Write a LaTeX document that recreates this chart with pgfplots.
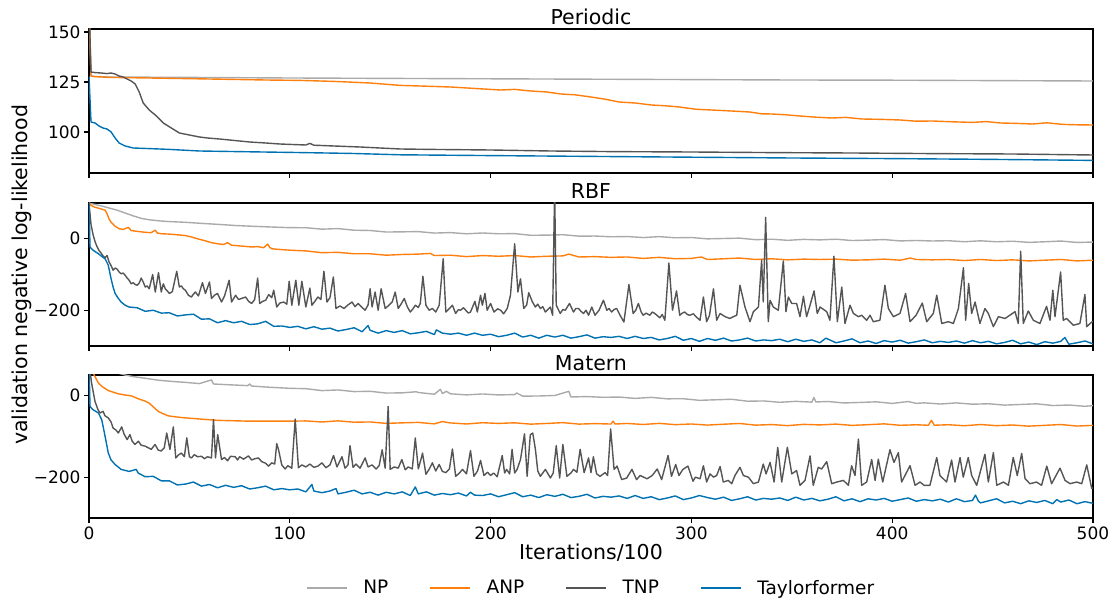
\documentclass[border=0pt]{standalone}
\usepackage{fontspec}
\setmainfont{DejaVu Sans}
\usepackage{pgfplots}
\pgfplotsset{compat=1.18}

\definecolor{cNP}{HTML}{AAAAAA}
\definecolor{cANP}{HTML}{FF7F0E}
\definecolor{cTNP}{HTML}{555555}
\definecolor{cTF}{HTML}{0072B2}

\pgfplotsset{
  panel/.style={
    scale only axis, width=1004pt,
    xmin=0, xmax=500,
    axis line style={line width=1.1pt},
    tick align=outside, xtick pos=bottom, ytick pos=left,
    major tick length=5pt,
    every tick/.style={black, line width=1.1pt},
    xtick={0,100,200,300,400,500},
    tick label style={font=\fontsize{17}{20}\selectfont},
    title style={font=\fontsize{20.5}{24}\selectfont, at={(0.5,1)}, anchor=base, yshift=-2pt, inner sep=0pt},
    every axis plot/.append style={line width=1.4pt, line join=round},
  },
}

\begin{document}
\begin{tikzpicture}
\useasboundingbox (-89pt,29pt) rectangle (1023pt,-572pt);

% Periodic
\begin{axis}[panel, at={(0,-144pt)}, height=144pt,
  ymin=79.5, ymax=151.5, ytick={100,125,150}, yticklabels={100,125,150},
  xticklabels={}, title={Periodic}]
\addplot[cNP] coordinates {(0,165)(1,128)(2,127.8)(10,127.5)(50,127.3)(100,127)(150,126.8)(200,126.6)(250,126.4)(300,126.2)(350,126)(400,125.9)(450,125.7)(500,125.5)};
\addplot[cANP] coordinates {(0,160)(1,128)(3,127.7)(10,127.3)(30,127)(60,126.5)(88,126)(105,125.8)(122,125.3)(140,124.5)(155,123.3)(165,123)(180,122.5)(195,121.6)(205,121)(212,121.3)(220,120.5)(228,120)(235,119)(242,118.6)(250,117.5)(257,116.4)(264,115)(272,114.5)(280,113.5)(287,113.1)(294,112.5)(302,111.4)(310,111)(318,110.6)(329,110)(335,109.1)(340,109)(347,108.6)(354,108)(362,107.4)(370,107)(377,107.3)(385,106.5)(395,106.3)(404,106)(412,105.4)(420,105.5)(430,105.1)(440,104.8)(447,105.2)(454,104.5)(462,104.3)(470,104)(477,104.6)(485,103.8)(492,103.6)(500,103.5)};
\addplot[cTNP] coordinates {(0,165)(1,130)(3,129.7)(6,129.5)(9,129.2)(11,129.5)(13,129)(15,128)(17,127.5)(19,126.5)(21,125.5)(23,124)(25,120)(27,114.5)(30,111)(33,108.5)(37,104.5)(41,102)(45,99.5)(50,98.5)(55,97.5)(59,97)(65,96.5)(70,96)(75,95.5)(80,95)(88,94.5)(95,94)(100,93.8)(108,93.5)(110,94.3)(112,93.4)(122,93)(135,92.5)(145,92)(155,91.5)(170,91.3)(200,91)(230,90.5)(260,90.2)(300,90)(340,89.7)(380,89.5)(420,89.2)(460,89)(500,88.5)};
\addplot[cTF] coordinates {(0,128)(1,105)(3,104.5)(5,103)(7,102)(9,101.5)(11,100)(13,97)(15,94.5)(18,93)(22,92)(30,91.7)(40,91.3)(55,90.5)(80,90.1)(100,89.8)(130,89.3)(155,88.6)(200,88.2)(250,87.8)(300,87.4)(350,87)(400,86.7)(450,86.3)(500,85.8)};
\end{axis}

% RBF
\begin{axis}[panel, at={(0,-317pt)}, height=143pt,
  ymin=-300, ymax=100, ytick={-200,0}, yticklabels={−200,0},
  xticklabels={}, title={RBF}]
\addplot[cNP] coordinates {(0,100)(1,98)(3,96)(6,92)(10,86)(14,80)(18,72)(22,64)(26,57)(30,53)(35,50)(40,48)(48,46)(56,43)(65,40)(73,37)(81,35)(90,33)
(100,31)(108,30.8)(116,26.8)(124,28.4)(132,23.9)(140,23.1)(148,18.8)(156,19.3)(164,20)(172,15.9)(180,17.2)(188,13.8)(196,16.1)(204,13.9)(212,14.4)(220,9.7)(228,10.1)(236,11.3)(244,7.3)(252,7.6)(260,5.5)(268,6.2)(276,3.3)(284,5.9)(292,2.7)(300,3.4)(308,-0.3)(316,0.7)(324,1.7)(332,-2.6)(340,-1.3)(348,-4.4)(356,-1.8)(364,-3.2)(372,-1.3)(380,-5)(388,-3.8)(396,-2.3)(404,-6.1)(412,-4.8)(420,-6.3)(428,-5.5)(436,-8.4)(444,-5.7)(452,-8.5)(460,-6.9)(468,-10.1)(476,-8.5)(484,-6.4)(492,-10.3)(500,-9.3)};
\addplot[cANP] coordinates {(0,100)(1,93)(3,88)(5,85)(8,80)(9,70)(10,55)(11,46)(13,35)(15,28)(17,26)(19.6,32)(21,23)(25,20)(28,18)(31,17)(33,24)(34,16)(36,14)(40,13)(44,11)(48,9)(51,5)(54,0)(58,-6)(61,-11)(64,-14)(67,-16)(69,-11)(71,-18)(75,-20)(81,-23)(84,-22)(87,-25)(89,-15)(90,-24)(91,-28)(95,-30)
(100,-32)(108,-34)(116,-39)(124,-38)(132,-42)(140,-42)(148,-46)(156,-44)(164,-43)(170,-41)(172,-47)(180,-46)(188,-50)(196,-47)(204,-49)(212,-47)(220,-51)(228,-49)(236,-48)(239,-43)(244,-51)(252,-50)(260,-52)(268,-51)(276,-55)(284,-52)(292,-56)(300,-55)(305,-51)(308,-58)(316,-56)(324,-54)(332,-58)(340,-56)(348,-59)(356,-57)(364,-58)(372,-57)(380,-60)(388,-59)(396,-57)(404,-60)(409,-54)(412,-58)(420,-59)(428,-58)(436,-61)(444,-58)(452,-61)(460,-59)(468,-62)(476,-60)(484,-58)(492,-62)(500,-60)};
\addplot[cTNP] coordinates {(0,100)(1,40)(2,12)(3,-8)(4,-22)(5,-33)(6,-40)(7,-48)(8,-53)(9,-47)(10,-65)(11,-75)(12,-88)(13,-82)(14,-85)(15,-93)(16,-98)(17,-96)(18,-102)(19,-110)(20,-116)(21,-126)(22,-123)(23,-128)(24,-130)(25,-124)(26,-110)(27,-121)(28,-135)(29,-132)(30,-140)(31.7,-100)(33,-149)(34.6,-95)(36,-149)(37,-126)(38,-140)(39,-146)(40,-153)(41.5,-148)(43.7,-91)(45,-135)(46,-132)(47,-140)(48,-144)(49.5,-158)(51,-163)(52,-155)(53,-149)(54.5,-160)(56.5,-123)(58,-153)(60,-121)(61,-167)(62.5,-158)(64,-153)(66,-177)(67.5,-160)(69.8,-116)(71,-177)(73,-158)(74.5,-170)(76,-167)(78,-163)(79.5,-175)(81,-181)(82.5,-170)(84,-110)(85,-181)(86.5,-175)(88,-172)(89.5,-156)(91,-165)(92,-144)(93.5,-191)(95,-180)(97,-177)(98.5,-183)(99.7,-119)(101,-186)(103,-116)(104.5,-186)(106,-119)(108,-191)(110,-138)(111,-186)(112.5,-175)(114,-163)(115.5,-170)(117,-91)(118.5,-177)(120,-165)(121.7,-107)(123,-195)(125,-188)(127,-195)(129,-185)(131,-177)(132.5,-190)(134,-181)(136,-192)(137.5,-200)(139,-185)(140,-140)(141,-191)(142.5,-149)(144,-200)(145.5,-140)(147.5,-195)(149,-188)(151,-177)(152.5,-149)(154,-195)(155.5,-182)(157,-167)(158.5,-190)(160,-205)(161.5,-195)(162.5,-186)(164,-192)(165,-181)(166.3,-105)(167.8,-186)(169.4,-200)(171,-195)(172.7,-205)(174.4,-186)(176.4,-56)(177.7,-205)(179.5,-195)(181,-186)(182.6,-209)(184,-198)(185,-200)(186.5,-193)(187.6,-200)(189,-208)(190,-205)(192.2,-175)(193.4,-205)(195,-158)(195.9,-186)(197.2,-153)(198.3,-200)(200,-181)(201.7,-205)(203.5,-196)(205,-200)(206.5,-210)(208.3,-195)(209.9,-158)(212,-14)(213.6,-149)(214.9,-112)(216.5,-195)(218,-185)(219,-151)(220.7,-175)(222.3,-191)(223.5,-183)(224.8,-195)(226,-190)(227.3,-205)(228.5,-198)(229.8,-191)(230.9,-214)(231.9,140)(232.7,-186)(234.7,-209)(236,-198)(237.2,-200)(239.3,-181)(241.3,-205)(242.5,-195)(243.8,-195)(245,-203)(246.3,-209)(247.5,-200)(248.8,-214)(250.4,-191)(252,-214)(254,-200)(256.2,-172)(257.9,-200)(259,-195)(260.3,-205)(261.5,-198)(262.8,-195)(264.5,-214)(266.4,-233)(268.9,-128)(271,-209)(272.3,-200)(273.6,-181)(275,-205)(276,-214)(277.5,-208)(279.3,-214)(280.5,-205)(281.8,-209)(283,-215)(284.3,-221)(285.5,-212)(286.8,-228)(288.8,-68)(290.6,-200)(292.6,-146)(294.2,-214)(295.5,-208)(296.7,-205)(298,-212)(299.2,-214)(301,-210)(302.5,-219)(304.3,-228)(306,-163)(307.6,-232)(309,-215)(311,-140)(312.6,-228)(314.3,-209)(316.8,-218)(319.2,-223)(320.9,-218)(322.6,-214)(324.2,-130)(326.7,-191)(329.2,-232)(330.9,-204)(333.4,-191)(335,-60)(335.8,-177)(337,60)(338.3,-232)(339.2,-172)(340.8,-191)(343.3,-200)(345.8,-62)(347.1,-204)(348.3,-163)(350,-181)(352.4,-181)(354.1,-218)(355.8,-161)(357.4,-218)(359.1,-186)(361.1,-146)(362.7,-209)(364.1,-191)(367.4,-204)(369,-228)(371,-49)(372.7,-232)(374.9,-135)(376.5,-237)(379,-186)(380.7,-209)(383.2,-218)(384.8,-214)(387.3,-228)(389,-214)(390.6,-232)(393.9,-228)(396.4,-130)(398.1,-195)(400.6,-218)(403.9,-209)(406.7,-153)(408.9,-232)(411.9,-214)(415,-180)(417.2,-232)(420.5,-209)(422.2,-158)(424.7,-237)(428,-232)(430.5,-237)(433,-195)(435.5,-81)(436.6,-228)(438.1,-125)(439.6,-209)(441.3,-177)(443.7,-237)(446.2,-195)(447.9,-209)(450.4,-246)(452.9,-218)(456.2,-223)(461.2,-204)(462.8,-237)(464,-35)(465.3,-237)(467.8,-202)(470.3,-228)(473.6,-237)(476.9,-189)(478.6,-228)(480,-144)(481.1,-218)(483.9,-93)(485.2,-228)(486.9,-223)(490.2,-242)(493.5,-237)(496,-156)(496.9,-246)(499.4,-233)(500,-232)};
\addplot[cTF] coordinates {(0,100)(0.5,-23)(2,-32)(4.7,-42)(6.5,-50)(8,-56)(9.6,-74)(11,-112)(12,-135)(13,-153)(14.5,-166)(16,-177)(18,-186)
(20,-191)(24,-193)(28,-203)(32,-200)(36,-208)(40,-207)(44,-216)(48,-213)(52,-211)(56,-225)(60,-224)(64,-235)(68,-229)(72,-235)(76,-231)(80,-240)(84,-238)(88,-231)(92,-245)(96,-244)(100,-248)(104,-245)(108,-252)(112,-246)(116,-253)(120,-250)(124,-258)(128,-254)(132,-249)(136,-260)(139,-243)(140,-256)(144,-264)(148,-257)(152,-262)(156,-257)(160,-266)(164,-263)(168,-259)(172,-268)(173,-255)(176,-264)(180,-267)(184,-264)(188,-270)(192,-264)(196,-270)(200,-267)(204,-274)(208,-270)(212,-264)(216,-275)(220,-270)(224,-278)(228,-270)(232,-275)(236,-270)(240,-278)(244,-274)(248,-269)(252,-278)(256,-274)(260,-276)(264,-273)(268,-279)(272,-273)(276,-279)(280,-276)(284,-283)(288,-279)(292,-273)(296,-284)(300,-279)(304,-287)(308,-279)(312,-284)(316,-278)(320,-286)(324,-283)(328,-278)(332,-286)(336,-283)(340,-285)(344,-281)(348,-288)(352,-281)(356,-287)(360,-283)(364,-291)(367,-278)(372,-291)(376,-286)(380,-280)(384,-291)(388,-286)(392,-293)(396,-285)(400,-289)(404,-284)(408,-292)(412,-288)(416,-283)(420,-291)(424,-287)(428,-290)(432,-286)(436,-292)(440,-285)(444,-291)(448,-287)(452,-294)(456,-290)(460,-284)(464,-294)(468,-289)(472,-296)(476,-288)(480,-292)(484,-287)(486,-276)(488,-295)(492,-291)(496,-286)(500,-294)};
\end{axis}

% Matern
\begin{axis}[panel, at={(0,-489pt)}, height=143pt,
  ymin=-300, ymax=50, ytick={-200,0}, yticklabels={−200,0},
  xticklabels={0,100,200,300,400,500}, title={Matern},
  xlabel={Iterations/100},
  xlabel style={font=\fontsize{20.5}{24}\selectfont, at={(axis description cs:0.5,0)}, anchor=base, yshift=-41pt, inner sep=0pt},
  legend columns=4,
  legend style={at={(0.5,0)}, anchor=center, yshift=-70pt, draw=none, fill=none,
    font=\fontsize{18.5}{22}\selectfont,
    /tikz/every odd column/.append style={column sep=14pt},
    /tikz/every even column/.append style={column sep=39pt}},
  legend image code/.code={\draw[#1] (0pt,0pt) -- (40pt,0pt);},
]
\addplot[cNP] coordinates {(0,90)(5,75)(10,62)(15,54)(18,50)(22,46)(28,42)(35,37)(42,34)(48,32)(55,29)(61,38)(62,28)(70,26)(79,24)(80,28)(81,23)(90,20)
(100,17.4)(108,16.5)(116,11.8)(124,13.4)(132,9.4)(140,10.1)(148,5.8)(156,6.3)(163,9)(164,7.2)(172,2.9)(175,15)(176,4.7)(178,10)(180,4)(188,1.3)(196,3.6)(204,1.2)(212,2.1)(213,6)(216,-1.7)(224,-1.4)(232,-0.1)(239,10)(240,-3.8)(248,-2.8)(256,-4.6)(264,-4)(272,-7.2)(280,-4.8)(288,-8.3)(296,-8.1)(304,-12)(312,-10.7)(320,-9.4)(328,-14.2)(336,-13.5)(344,-16.8)(352,-14.5)(360,-16.4)(361,-5)(362,-16)(368,-14.9)(376,-18.4)(384,-17.2)(392,-15.7)(400,-19.5)(408,-15)(412,-19.4)(416,-18.2)(424,-21)(432,-18.3)(440,-21.5)(448,-20.4)(456,-23.7)(464,-22.1)(472,-20.5)(480,-24.8)(488,-23.5)(496,-26.6)(500,-25)};
\addlegendentry{NP}
\addplot[cANP] coordinates {(0,100)(1,70)(2,55)(3,46)(4.7,30)(7,20)(9.6,12)(12,8)(14.6,4)(18,1)(21,-1)(25,-9)(28,-14)(30,-19)(32,-28)(34.5,-39)(37,-45)(39.5,-50)(44,-53)(48,-55)(56,-58)(64,-61)(72,-62)(80,-63)(90,-63)
(100,-63)(108,-62.4)(116,-65)(124,-62.2)(132,-65.6)(140,-64.9)(148,-68.4)(156,-67.1)(164,-66)(172,-69.6)(176,-64)(180,-67.3)(188,-69.9)(196,-66.8)(204,-68.5)(212,-67)(220,-70.3)(228,-68.6)(236,-66.6)(244,-70.2)(252,-69)(260,-70)(261,-63)(262,-70)(268,-68.6)(276,-71.1)(284,-68.4)(292,-71.5)(300,-69.9)(308,-72.6)(316,-70.5)(324,-68.6)(332,-72.7)(340,-71.3)(348,-73.9)(356,-70.8)(364,-72.2)(372,-70.2)(380,-73.3)(388,-71.6)(396,-69.6)(404,-73.1)(412,-71.8)(418,-73)(419.6,-61)(421,-73)(428,-71.7)(436,-74.2)(444,-71.2)(452,-74)(460,-72.4)(468,-75.2)(476,-73.2)(484,-71.2)(492,-75)(500,-73.3)};
\addlegendentry{ANP}
\addplot[cTNP] coordinates {(0,80)(1.3,30)(3,-15)(4.5,-35)(5.5,-43)(7,-39)(8,-50)(9.6,-55)(11,-65)(12,-80)(13.5,-85)(14.6,-92)(16.3,-77)(17.5,-95)(19,-108)(20.4,-96)(21.5,-112)(22.9,-120)(24.6,-112)(26,-122)(27.9,-124)(29.5,-128)(31,-132)(32.9,-120)(34.5,-134)(36,-136)(37.5,-128)(38.7,-92)(40.3,-132)(42,-77)(43.2,-153)(44.5,-146)(46,-141)(47.5,-150)(48.7,-104)(50,-150)(51,-153)(52.5,-145)(54,-150)(56.1,-149)(57.5,-155)(59,-150)(61,-153)(62,-59)(63,-153)(64.1,-96)(66,-157)(67.5,-152)(69,-160)(70.5,-149)(72.8,-150)(74,-158)(75,-150)(77,-156)(79.4,-148)(81,-158)(82.5,-155)(84.4,-153)(86,-162)(88,-166)(89.4,-173)(91,-165)(92.5,-168)(93.5,-118)(94.4,-133)(96,-170)(97.7,-180)(99,-172)(101,-178)(102.7,-58)(104.3,-177)(106,-170)(108,-175)(110,-168)(112,-176)(114,-173)(116,-165)(118,-177)(120,-170)(121.8,-147)(123.5,-175)(126,-150)(127.5,-178)(129,-170)(130,-123)(131.5,-176)(133,-168)(135,-178)(137.5,-153)(139,-175)(141,-170)(143,-180)(144.5,-172)(146,-133)(147.5,-178)(149,-27)(150,-181)(152,-175)(154,-178)(155.8,-157)(157.5,-182)(159,-175)(161,-180)(162.5,-104)(164,-180)(165.8,-148)(166.1,-141)(167.8,-193)(169.5,-180)(171,-165)(172.7,-185)(174.4,-169)(176,-186)(177.7,-189)(179.5,-180)(181,-131)(182.6,-198)(184.5,-190)(186,-181)(188,-192)(190,-135)(191.7,-198)(193.5,-185)(195,-159)(196.7,-196)(198.5,-188)(200,-196)(201.5,-190)(203.3,-199)(205.8,-147)(207,-190)(208,-181)(209.5,-192)(210.7,-132)(212,-190)(213.2,-181)(214.9,-157)(216.9,-94)(218.2,-198)(219.8,-96)(221,-92)(222.3,-131)(223.5,-185)(224.8,-198)(227.3,-181)(229.8,-202)(231.2,-190)(232.7,-123)(234.4,-202)(236,-120)(238,-198)(240,-190)(241.3,-181)(243,-188)(244.6,-132)(246.6,-189)(248.8,-153)(250,-189)(251.2,-150)(252.8,-192)(254.5,-198)(257,-189)(258.3,-196)(259.8,-82)(261.5,-181)(263,-173)(265.3,-206)(267.8,-202)(270.4,-181)(272.7,-206)(274.5,-196)(277.9,-204)(280.5,-196)(283,-180)(285.2,-206)(288.4,-147)(290.1,-198)(292.2,-169)(293.8,-196)(295.8,-181)(298.3,-173)(300.8,-210)(302,-200)(304.3,-204)(306,-172)(307.6,-212)(309.3,-192)(311,-200)(312.6,-196)(314.3,-174)(315.9,-212)(318.4,-208)(320.1,-216)(321.7,-196)(324.2,-176)(325.9,-196)(328.4,-200)(330.9,-216)(333.4,-212)(335.8,-168)(337.2,-192)(339.2,-164)(341.2,-212)(343,-127)(345,-212)(347.8,-127)(350,-192)(352.4,-184)(354.1,-220)(356.6,-208)(359.1,-148)(360.7,-220)(363.2,-176)(364.9,-180)(367.4,-162)(369.9,-216)(372.4,-212)(375.7,-208)(378.2,-220)(379.8,-172)(381.5,-196)(383.2,-107)(384.8,-220)(387.3,-212)(389.8,-157)(391.5,-208)(393.1,-156)(395.3,-212)(398.9,-133)(400.9,-164)(403.1,-140)(404.7,-212)(408.9,-172)(411.4,-220)(413.9,-212)(415.9,-220)(418.8,-220)(422.2,-152)(423.8,-196)(427.1,-212)(429.6,-158)(431.3,-212)(433.8,-152)(435.4,-200)(437.9,-152)(439.6,-196)(442.1,-220)(446.2,-144)(447.9,-212)(450.4,-140)(452.1,-220)(455.4,-212)(457.9,-220)(460.3,-152)(462.3,-196)(464.5,-142)(466.2,-204)(468.6,-216)(471.9,-212)(474.4,-220)(477,-173)(479.4,-216)(483.6,-178)(486.1,-208)(488.6,-216)(491.9,-212)(494.4,-216)(496.9,-170)(499.4,-228)(500,-226)};
\addlegendentry{TNP}
\addplot[cTF] coordinates {(0,80)(0.5,-27)(2,-35)(4.7,-43)(6.3,-59)(7,-75)(8,-100)(9,-125)(9.6,-141)(11,-158)(13,-169)(16,-181)
(20,-186)(23.5,-181)(24.5,-190)(28,-199)(32,-198)(36,-209)(40,-209)(44,-219)(48,-217)(52,-212)(56,-222)(60,-218)(64,-226)(68,-220)(72,-225)(76,-221)(80,-229)(84,-226)(88,-222)(92,-231)(96,-228)(100,-231)(104,-229)(108,-236)(111,-218)(112,-234)(116,-238)(120,-234)(123,-228)(124,-241)(128,-237)(132,-232)(136,-241)(140,-237)(144,-244)(148,-237)(152,-241)(156,-236)(160,-245)(162.5,-224)(164,-241)(168,-236)(172,-244)(176,-240)(180,-243)(184,-239)(188,-246)(190,-237)(192,-244)(196,-245)(200,-241)(204,-248)(208,-243)(212,-238)(216,-248)(220,-244)(224,-250)(228,-243)(232,-247)(236,-242)(240,-250)(244,-247)(248,-242)(252,-251)(256,-247)(260,-249)(264,-246)(268,-252)(272,-245)(276,-252)(280,-248)(284,-255)(288,-251)(292,-246)(296,-255)(300,-251)(304,-245)(308,-250)(312,-254)(316,-249)(320,-257)(324,-253)(328,-248)(332,-256)(336,-252)(340,-254)(344,-251)(348,-257)(352,-249)(356,-256)(360,-252)(364,-258)(368,-254)(372,-248)(376,-258)(380,-253)(384,-260)(388,-253)(392,-256)(396,-252)(400,-259)(404,-255)(408,-251)(412,-259)(416,-255)(420,-258)(424,-254)(428,-261)(432,-253)(436,-260)(440,-257)(441.5,-244)(443,-259)(444,-263)(448,-258)(452,-253)(456,-263)(460,-259)(464,-265)(468,-258)(472,-262)(476,-257)(480,-265)(482,-255)(484,-261)(488,-256)(492,-265)(496,-260)(500,-264)};
\addlegendentry{Taylorformer}
\end{axis}

\node[rotate=90, font=\fontsize{20.5}{24}\selectfont, inner sep=0pt] at (-67pt,-246pt) {validation negative log-likelihood};
\end{tikzpicture}
\end{document}
